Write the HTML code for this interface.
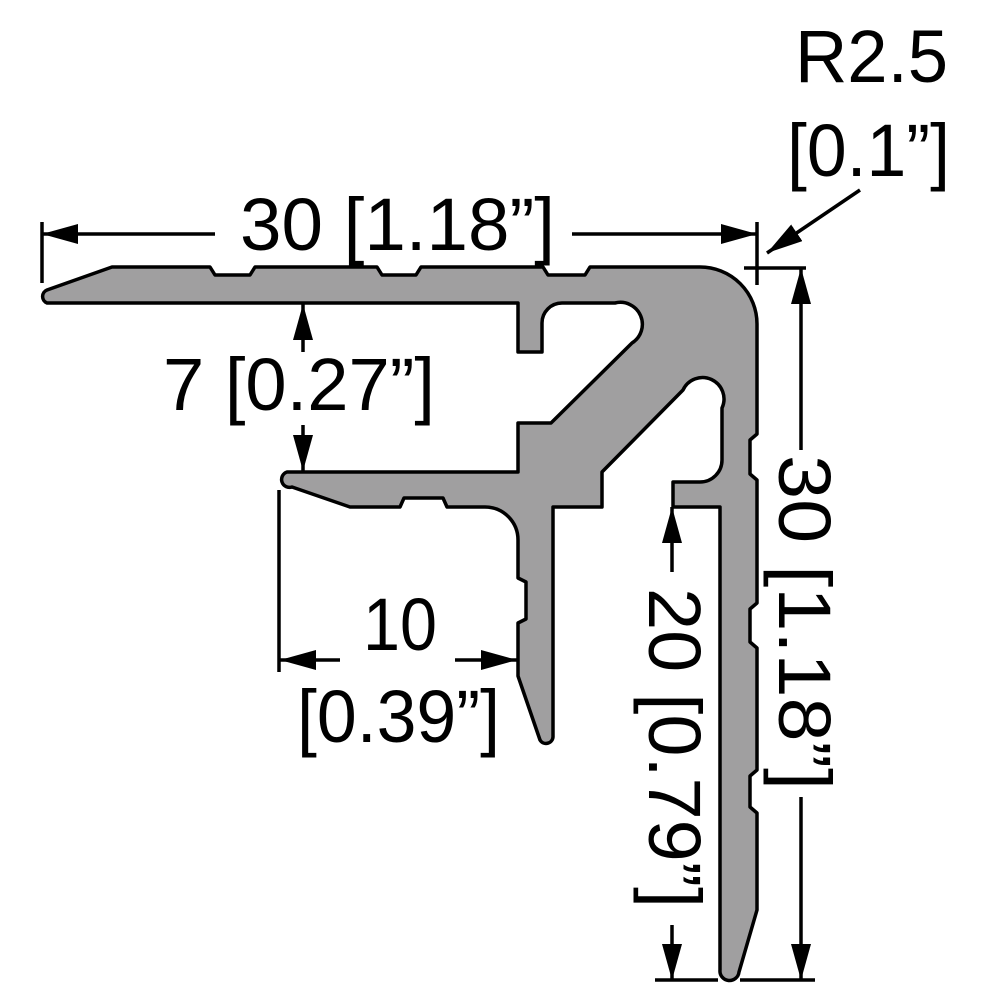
<!DOCTYPE html>
<html><head><meta charset="utf-8"><style>html,body{margin:0;padding:0;background:#fff}svg{display:block}</style></head>
<body>
<svg width="1000" height="1000" viewBox="0 0 1000 1000" xmlns="http://www.w3.org/2000/svg">
<defs>
<marker id="a" viewBox="0 0 36 20" refX="36" refY="10" markerWidth="36" markerHeight="20" markerUnits="userSpaceOnUse" orient="auto"><path d="M0,0 L36,10 L0,20 Z" fill="#000"/></marker>
</defs>
<path fill="#a09fa0" stroke="#000" stroke-width="3.5" stroke-linejoin="round" d="
M47,290 L112,267 L210,267 L215,275 L250,275 L255,267 L377,267 L382,275 L416,275 L421,267 L543,267 L548,275 L585,275 L590,267
L700,267 A57,57 0 0 1 757,324
L757,434 L750,440 L750,474 L757,480
L757,603 L750,609 L750,642 L757,648
L757,770 L750,776 L750,807 L757,813
L757,910 L739,972 A9,9 0 0 1 720,970
L720,507 L673,507 L673,482 L700,482 A22,22 0 0 0 722,460 L722,408 A21,21 0 0 0 683,390
L602,472 L602,507 L553,507
L553,737 A7,7 0 0 1 540,740 L518,676
L518,623 L526,619 L526,582 L518,578
L518,540 A33,33 0 0 0 485,507
L447,507 L443,498 L404,498 L400,507 L350,507 L292,487 A7,7 0 0 1 287,472
L518,472 L518,423 L551,423 L632,343 A22,22 0 0 0 615,303 L562,303 A20,20 0 0 0 542,323
L542,352 L518,352 L518,303 L47,303 A7,7 0 0 1 47,290 Z"/>
<g stroke="#000" stroke-width="3.5" fill="none">
<!-- top dim -->
<line x1="42" y1="222" x2="42" y2="283"/>
<line x1="215" y1="234" x2="42" y2="234" marker-end="url(#a)"/>
<line x1="572" y1="234" x2="757" y2="234" marker-end="url(#a)"/>
<!-- R cross -->
<line x1="757" y1="222" x2="757" y2="285"/>
<line x1="744" y1="268" x2="806" y2="268"/>
<line x1="860" y1="190" x2="767" y2="253" marker-end="url(#a)"/>
<!-- right dim -->
<line x1="801" y1="450" x2="801" y2="268" marker-end="url(#a)"/>
<line x1="801" y1="797" x2="801" y2="980" marker-end="url(#a)"/>
<line x1="740" y1="980" x2="815" y2="980"/>
<!-- 20 dim -->
<line x1="672" y1="572" x2="672" y2="507" marker-end="url(#a)"/>
<line x1="672" y1="925" x2="672" y2="980" marker-end="url(#a)"/>
<line x1="655" y1="980" x2="718" y2="980"/>
<!-- 7 dim -->
<line x1="303" y1="352" x2="303" y2="304" marker-end="url(#a)"/>
<line x1="303" y1="425" x2="303" y2="471" marker-end="url(#a)"/>
<!-- 10 dim -->
<line x1="279" y1="490" x2="279" y2="672"/>
<line x1="340" y1="660" x2="280" y2="660" marker-end="url(#a)"/>
<line x1="455" y1="660" x2="517" y2="660" marker-end="url(#a)"/>
</g>
<g font-family="Liberation Sans, Arial, sans-serif" font-size="74" fill="#000">
<text x="240" y="250" textLength="315" lengthAdjust="spacingAndGlyphs">30 [1.18”]</text>
<text x="795" y="82" textLength="153" lengthAdjust="spacingAndGlyphs">R2.5</text>
<text x="787" y="176" textLength="163" lengthAdjust="spacingAndGlyphs">[0.1”]</text>
<text x="163" y="410" textLength="272" lengthAdjust="spacingAndGlyphs">7 [0.27”]</text>
<text x="363" y="650" textLength="74" lengthAdjust="spacingAndGlyphs">10</text>
<text x="297" y="742" textLength="203" lengthAdjust="spacingAndGlyphs">[0.39”]</text>
<text transform="translate(779,455) rotate(90)" x="0" y="0" textLength="335" lengthAdjust="spacingAndGlyphs">30 [1.18”]</text>
<text transform="translate(649,588) rotate(90)" x="0" y="0" textLength="320" lengthAdjust="spacingAndGlyphs">20 [0.79”]</text>
</g>
</svg>
</body></html>
